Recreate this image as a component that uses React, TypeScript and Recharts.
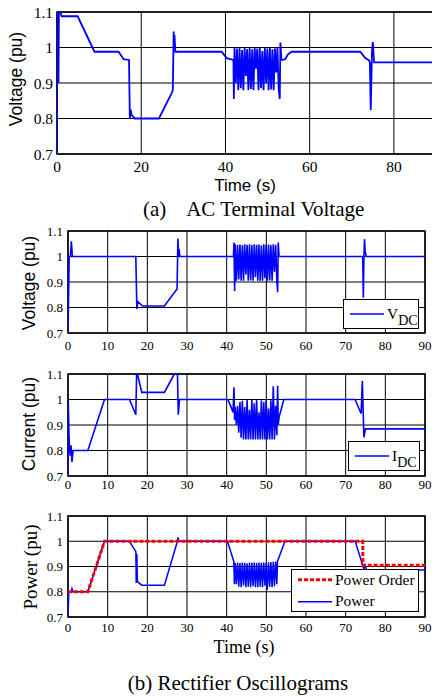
import React from 'react';
import { LineChart, Line, XAxis, YAxis, CartesianGrid, ReferenceArea } from 'recharts';

// shared time base for the 42-53 s oscillation burst
const burstT = [
  42.15, 42.45, 42.75, 43.05, 43.35, 43.65, 43.95, 44.25, 44.55, 44.85, 45.15, 45.45,
  45.75, 46.05, 46.35, 46.65, 46.95, 47.25, 47.55, 47.85, 48.15, 48.45, 48.75, 49.05,
  49.35, 49.65, 49.95, 50.25, 50.55, 50.85, 51.15, 51.45, 51.75, 52.05, 52.35, 52.65,
];

// (a) AC terminal voltage
const acT = [
  0, 0.05, 0.25, 0.35, 0.45, 0.8, 1.1, 4.9, 8.9, 14.6, 15.4, 15.8, 17.1, 17.3, 17.5, 17.7, 18.5,
  24.2, 27.2, 27.5, 27.7, 27.8, 27.9, 28.1, 39.1, 40.3, 41.9, 42.0,
  ...burstT,
  52.9, 53.05, 53.3, 53.6, 54.2, 54.8, 55.7, 72.0, 73.2, 74.0, 74.3, 74.5, 74.8, 75.0, 75.3, 90,
];
const acV = [
  0.7, 1.1, 1.1, 0.9, 1.1, 1.1, 1.088, 1.088, 0.988, 0.988, 0.975, 0.967, 0.965, 0.8, 0.825, 0.81, 0.8,
  0.8, 0.871, 0.88, 1.045, 1.0, 1.035, 0.988, 0.988, 0.97, 0.965, 0.855,
  1.0, 0.9, 0.997, 0.88, 0.999, 0.885, 0.993, 0.88, 0.999, 0.92, 0.996, 0.88,
  0.999, 0.883, 0.995, 0.88, 0.999, 0.94, 0.997, 0.88, 0.999, 0.885, 0.99, 0.88,
  0.999, 0.9, 0.997, 0.88, 0.999, 0.882, 0.995, 0.88, 0.998, 0.93, 0.999, 0.88,
  0.855, 1.014, 0.965, 0.965, 0.967, 0.98, 0.988, 0.988, 0.97, 0.965, 0.958, 0.824, 0.99, 1.015, 0.958, 0.958,
];

// (b) rectifier DC voltage
const vdcT = [
  0, 0.3, 0.6, 0.85, 1.1, 17.1, 17.35, 17.6, 18.8, 24.3, 27.3, 27.5, 27.7, 27.85, 28.0, 28.2,
  41.7, 41.85, 42.0,
  ...burstT,
  52.85, 53.0, 53.2, 74.3, 74.45, 74.6, 74.75, 74.9, 75.2, 90,
];
const vdcV = [
  0.7, 1.0, 1.0, 1.06, 1.0, 1.0, 0.794, 0.823, 0.806, 0.806, 0.869, 0.872, 1.07, 1.0, 1.03, 1.0,
  1.0, 1.055, 0.865,
  1.048, 0.905, 1.045, 0.91, 1.047, 0.905, 1.044, 0.905, 1.048, 0.93, 1.046, 0.905,
  1.047, 0.906, 1.045, 0.905, 1.048, 0.92, 1.046, 0.905, 1.047, 0.905, 1.043, 0.905,
  1.048, 0.915, 1.046, 0.905, 1.047, 0.906, 1.045, 0.905, 1.048, 0.94, 1.046, 0.905,
  0.86, 1.055, 1.0, 1.0, 0.838, 1.0, 1.068, 1.02, 1.0, 1.0,
];

// rectifier DC current
const idcT = [
  0, 0.05, 0.3, 0.55, 0.75, 1.0, 1.3, 5.0, 9.2, 15.5, 17.1, 17.3, 17.5, 18.6, 24.3, 26.8,
  27.6, 27.8, 28.1, 40.3, 41.0, 41.6, 41.85, 42.0,
  ...burstT,
  52.85, 53.0, 53.2, 54.4, 72.4, 73.6, 73.9, 74.2, 74.6, 75.0, 75.3, 90,
];
const idcV = [
  0.7, 1.0, 0.83, 0.78, 0.82, 0.755, 0.8, 0.8, 1.0, 1.0, 0.94, 1.1, 1.1, 1.028, 1.028, 1.1,
  1.1, 0.94, 1.0, 1.0, 0.975, 0.95, 1.048, 0.92,
  0.97, 0.9, 0.975, 0.87, 0.99, 0.85, 0.995, 0.843, 0.97, 0.843, 0.998, 0.843,
  0.96, 0.843, 0.998, 0.843, 0.985, 0.843, 0.998, 0.843, 0.95, 0.843, 0.997, 0.843,
  0.99, 0.843, 0.998, 0.843, 0.965, 0.843, 0.997, 0.843, 1.052, 0.843, 0.975, 0.86,
  1.054, 0.9, 0.93, 1.0, 1.0, 0.955, 0.945, 1.072, 0.852, 0.885, 0.885, 0.885,
];

// rectifier power and power order
const powT = [
  0, 0.2, 0.8, 1.0, 1.2, 5.0, 9.2, 15.5, 17.1, 17.2, 17.35, 17.5, 18.6, 24.3, 27.4, 27.75,
  27.95, 28.2, 40.2, 41.8, 41.95,
  ...burstT,
  52.8, 54.7, 72.4, 74.2, 74.6, 74.9, 75.3, 90,
];
const powV = [
  0.7, 0.8, 0.8, 0.812, 0.8, 0.8, 1.0, 1.0, 0.959, 0.835, 0.95, 0.84, 0.826, 0.826, 0.99, 1.015,
  1.0, 1.0, 1.0, 0.92, 0.83,
  0.915, 0.83, 0.916, 0.82, 0.914, 0.818, 0.916, 0.825, 0.915, 0.818, 0.913, 0.82,
  0.916, 0.818, 0.915, 0.822, 0.916, 0.818, 0.914, 0.818, 0.916, 0.82, 0.915, 0.818,
  0.916, 0.824, 0.915, 0.808, 0.917, 0.82, 0.918, 0.818, 0.919, 0.822, 0.92, 0.83,
  0.92, 1.0, 1.0, 0.91, 0.89, 0.905, 0.886, 0.886,
];
const orderT = [0, 5.0, 9.2, 74.3, 74.35, 90];
const orderV = [0.8, 0.8, 1.0, 1.0, 0.905, 0.905];

const xTicksA = [0, 20, 40, 60, 80];
const xTicksB = [0, 10, 20, 30, 40, 50, 60, 70, 80, 90];
const yTicks = [0.7, 0.8, 0.9, 1, 1.1];

const SERIF = '"Liberation Serif", "Times New Roman", serif';
const SANS = '"Liberation Sans", Arial, sans-serif';
const BLUE = '#0000ff';
const RED = '#ff0000';

const zip = (t: number[], v: number[]) => t.map((x, i) => ({ t: x, v: v[i] }));

type Series = { name: string; data: { t: number; v: number }[]; color: string; width: number; dash?: string };

interface PanelProps {
  plotLeft: number;
  plotTop: number;
  plotW: number;
  plotH: number;
  xTicks: number[];
  series: Series[];
  fontSize: number;
  yTickMargin: number;
  xTickMargin: number;
}

function Panel({ plotLeft, plotTop, plotW, plotH, xTicks, series, fontSize, yTickMargin, xTickMargin }: PanelProps) {
  const top = plotTop - 12;
  const tickStyle = { fontFamily: SERIF, fontSize, fill: '#000' };
  return (
    <div style={{ position: 'absolute', left: 0, top }}>
      <LineChart width={plotLeft + plotW + 12} height={12 + plotH + 30} margin={{ top: 12, right: 12, bottom: 0, left: 0 }}>
        <CartesianGrid stroke="#000" strokeWidth={1} />
        <XAxis
          type="number"
          dataKey="t"
          domain={[0, 90]}
          ticks={xTicks}
          interval={0}
          allowDataOverflow
          height={30}
          axisLine={false}
          tickLine={false}
          tickSize={0}
          tickMargin={xTickMargin}
          tick={tickStyle}
        />
        <YAxis
          type="number"
          domain={[0.7, 1.1]}
          ticks={yTicks}
          interval={0}
          allowDataOverflow
          width={plotLeft}
          axisLine={false}
          tickLine={false}
          tickSize={0}
          tickMargin={yTickMargin}
          tick={tickStyle}
        />
        {series.map((s) => (
          <Line
            key={s.name}
            data={s.data}
            dataKey="v"
            name={s.name}
            type="linear"
            stroke={s.color}
            strokeWidth={s.width}
            strokeDasharray={s.dash}
            dot={false}
            isAnimationActive={false}
          />
        ))}
        <ReferenceArea x1={0} x2={90} y1={0.7} y2={1.1} fill="none" fillOpacity={0} stroke="#000" strokeWidth={1.5} />
      </LineChart>
    </div>
  );
}

function Txt({ x, y, children, font, size, rotate }: { x: number; y: number; children: React.ReactNode; font: string; size: number; rotate?: boolean }) {
  return (
    <div
      style={{
        position: 'absolute',
        left: x,
        top: y,
        transform: `translate(-50%, -50%)${rotate ? ' rotate(-90deg)' : ''}`,
        fontFamily: font,
        fontSize: size,
        lineHeight: 1,
        whiteSpace: 'pre',
        color: '#000',
      }}
    >
      {children}
    </div>
  );
}

type LegendItem = { label: string; sub?: string; color: string; width: number; dash?: string };

function LegendBox({ left, top, width, height, items }: { left: number; top: number; width: number; height: number; items: LegendItem[] }) {
  const rowH = height / items.length;
  return (
    <div
      style={{
        position: 'absolute',
        left,
        top,
        width,
        height,
        boxSizing: 'border-box',
        border: '1.5px solid #000',
        background: '#fff',
      }}
    >
      {items.map((it, i) => (
        <div key={it.label} style={{ position: 'absolute', left: 0, top: i * rowH - 1, height: rowH, width: '100%' }}>
          <svg width={36} height={rowH} style={{ position: 'absolute', left: 5, top: 0 }}>
            <line x1={1} x2={35} y1={rowH / 2} y2={rowH / 2} stroke={it.color} strokeWidth={it.width} strokeDasharray={it.dash} />
          </svg>
          <div
            style={{
              position: 'absolute',
              left: 43,
              top: rowH / 2 - 9,
              fontFamily: SERIF,
              fontSize: 15.5,
              lineHeight: '18px',
              whiteSpace: 'nowrap',
            }}
          >
            {it.label}
            {it.sub && <span style={{ position: 'relative', top: 6, fontSize: 14 }}>{it.sub}</span>}
          </div>
        </div>
      ))}
    </div>
  );
}

export default function App() {
  const ac: Series[] = [{ name: 'AC', data: zip(acT, acV), color: BLUE, width: 1.8 }];
  const vdc: Series[] = [{ name: 'VDC', data: zip(vdcT, vdcV), color: BLUE, width: 1.6 }];
  const idc: Series[] = [{ name: 'IDC', data: zip(idcT, idcV), color: BLUE, width: 1.6 }];
  const pow: Series[] = [
    { name: 'Power', data: zip(powT, powV), color: BLUE, width: 1.5 },
    { name: 'Power Order', data: zip(orderT, orderV), color: RED, width: 3, dash: '4 2' },
  ];

  return (
    <div style={{ position: 'absolute', left: 0, top: 0, width: 432, height: 696, overflow: 'hidden', background: '#fff' }}>
      <Panel plotLeft={57} plotTop={12} plotW={379} plotH={142} xTicks={xTicksA} series={ac} fontSize={15.5} yTickMargin={4} xTickMargin={7} />
      <Txt x={17} y={79} font={SANS} size={17.5} rotate>Voltage (pu)</Txt>
      <Txt x={245} y={185} font={SANS} size={17}>Time (s)</Txt>
      <div style={{ position: 'absolute', left: 143, top: 199, fontFamily: SERIF, fontSize: 21, lineHeight: 1, whiteSpace: 'pre' }}>
        {'(a)    AC Terminal Voltage'}
      </div>

      <Panel plotLeft={68} plotTop={231} plotW={357} plotH={102} xTicks={xTicksB} series={vdc} fontSize={13} yTickMargin={5} xTickMargin={8} />
      <Txt x={30} y={283} font={SANS} size={17.5} rotate>Voltage (pu)</Txt>
      <LegendBox left={343} top={299} width={76} height={30} items={[{ label: 'V', sub: 'DC', color: BLUE, width: 1.5 }]} />

      <Panel plotLeft={68} plotTop={374} plotW={357} plotH={102} xTicks={xTicksB} series={idc} fontSize={13} yTickMargin={5} xTickMargin={4} />
      <Txt x={30} y={424} font={SANS} size={17.5} rotate>Current (pu)</Txt>
      <LegendBox left={348} top={441} width={72} height={30} items={[{ label: 'I', sub: 'DC', color: BLUE, width: 1.5 }]} />

      <Panel plotLeft={68} plotTop={516} plotW={357} plotH={101} xTicks={xTicksB} series={pow} fontSize={13} yTickMargin={5} xTickMargin={6} />
      <Txt x={30} y={567} font={SERIF} size={19} rotate>Power (pu)</Txt>
      <LegendBox
        left={291}
        top={569}
        width={128}
        height={43}
        items={[
          { label: 'Power Order', color: RED, width: 3, dash: '4 2' },
          { label: 'Power', color: BLUE, width: 1.5 },
        ]}
      />
      <Txt x={244} y={647} font={SERIF} size={18}>Time (s)</Txt>
      <Txt x={238} y={683} font={SERIF} size={21}>(b) Rectifier Oscillograms</Txt>
    </div>
  );
}
